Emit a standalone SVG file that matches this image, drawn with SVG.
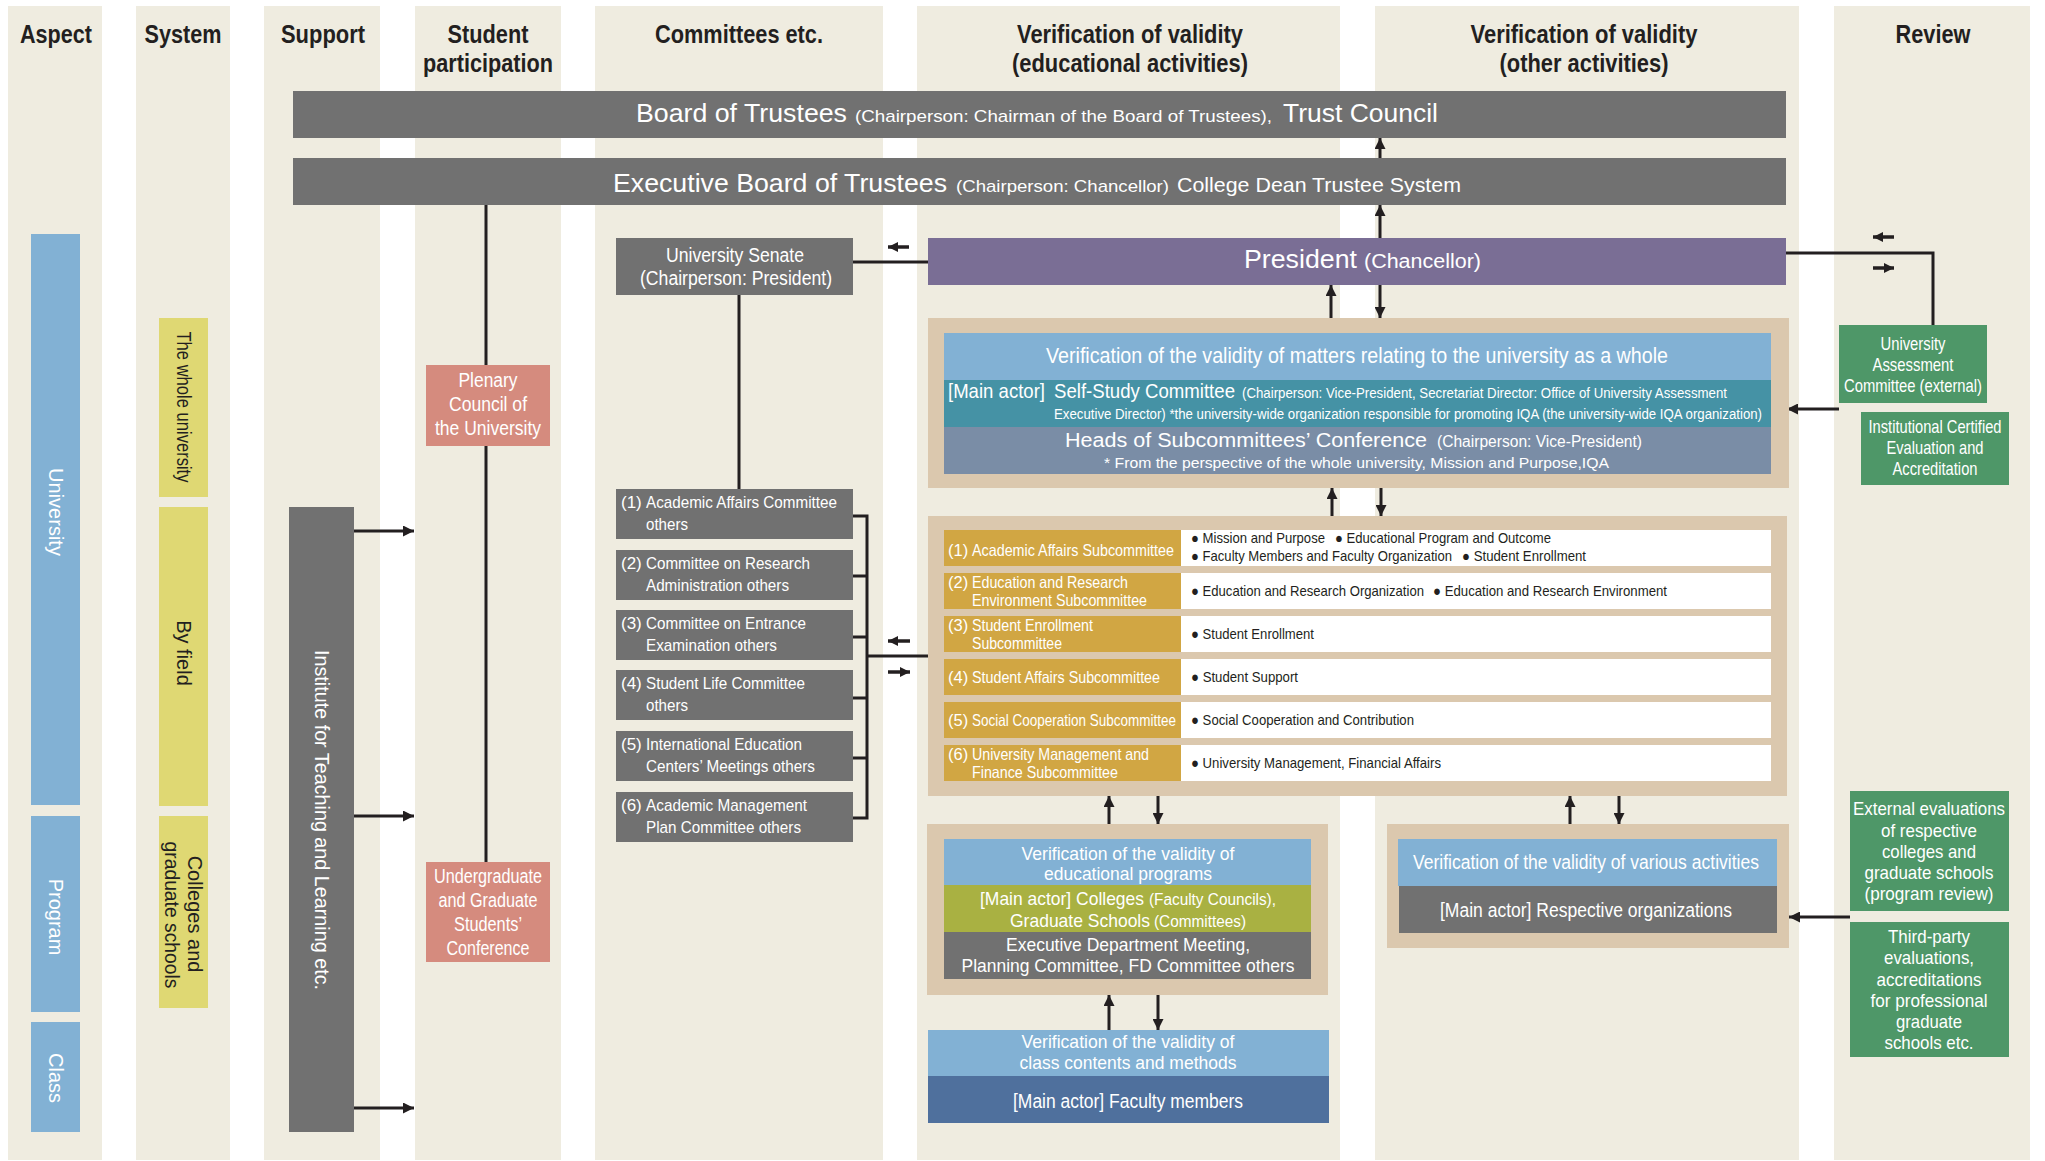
<svg xmlns="http://www.w3.org/2000/svg" width="2045" height="1161" viewBox="0 0 2045 1161">
<style>
text{font-family:"Liberation Sans",Arial,sans-serif;}
.col{fill:#efece0}
.hd{font-weight:bold;font-size:25px;fill:#231f20;text-anchor:middle}
.gr{fill:#717171}
.w{fill:#fff}
.k{fill:#231f20}
.m{text-anchor:middle}
.ln{stroke:#231f20;stroke-width:3;fill:none}
.ar{stroke:#231f20;stroke-width:3;fill:none;marker-end:url(#ah)}
.sa{stroke:#231f20;stroke-width:3.5;fill:none;marker-end:url(#ahs)}
.f14{font-size:14px}.f145{font-size:14.5px}.f15{font-size:15px}.f16{font-size:16px}.f165{font-size:16.5px}.f17{font-size:17px}.f18{font-size:18px}.f19{font-size:19px}.f20{font-size:20px}.f21{font-size:21px}.f22{font-size:22px}.f26{font-size:26px}
</style>
<defs>
<marker id="ah" viewBox="0 0 10 10" refX="10" refY="5" markerWidth="11" markerHeight="11" markerUnits="userSpaceOnUse" orient="auto"><path d="M0,0 L10,5 L0,10 z" fill="#231f20"/></marker>
<marker id="ahs" viewBox="0 0 10 10" refX="10" refY="5" markerWidth="10" markerHeight="11" markerUnits="userSpaceOnUse" orient="auto"><path d="M0,0 L10,5 L0,10 z" fill="#231f20"/></marker>
</defs>
<rect width="2045" height="1161" fill="#fff"/>
<g id="columns">
<rect class="col" x="8" y="6" width="94" height="1154"/>
<rect class="col" x="136" y="6" width="94" height="1154"/>
<rect class="col" x="264" y="6" width="116" height="1154"/>
<rect class="col" x="415" y="6" width="146" height="1154"/>
<rect class="col" x="595" y="6" width="288" height="1154"/>
<rect class="col" x="917" y="6" width="423" height="1154"/>
<rect class="col" x="1375" y="6" width="424" height="1154"/>
<rect class="col" x="1834" y="6" width="196" height="1154"/>
</g>
<g id="headers">
<text class="hd" x="56" y="43" textLength="72" lengthAdjust="spacingAndGlyphs">Aspect</text>
<text class="hd" x="183" y="43" textLength="77" lengthAdjust="spacingAndGlyphs">System</text>
<text class="hd" x="323" y="43" textLength="84" lengthAdjust="spacingAndGlyphs">Support</text>
<text class="hd" x="488" y="43" textLength="81" lengthAdjust="spacingAndGlyphs">Student</text>
<text class="hd" x="488" y="72" textLength="130" lengthAdjust="spacingAndGlyphs">participation</text>
<text class="hd" x="739" y="43" textLength="168" lengthAdjust="spacingAndGlyphs">Committees etc.</text>
<text class="hd" x="1130" y="43" textLength="226" lengthAdjust="spacingAndGlyphs">Verification of validity</text>
<text class="hd" x="1130" y="72" textLength="236" lengthAdjust="spacingAndGlyphs">(educational activities)</text>
<text class="hd" x="1584" y="43" textLength="227" lengthAdjust="spacingAndGlyphs">Verification of validity</text>
<text class="hd" x="1584" y="72" textLength="169" lengthAdjust="spacingAndGlyphs">(other activities)</text>
<text class="hd" x="1933" y="43" textLength="75" lengthAdjust="spacingAndGlyphs">Review</text>
</g>
<g id="connectors">
<line class="ln" x1="486" y1="205" x2="486" y2="862"/>
<line class="ln" x1="739" y1="295" x2="739" y2="489"/>
<line class="ln" x1="853" y1="262" x2="928" y2="262"/>
<line class="sa" x1="909" y1="247" x2="888" y2="247"/>
<line class="ar" x1="1380" y1="158" x2="1380" y2="138"/>
<line class="ar" x1="1380" y1="238" x2="1380" y2="205"/>
<line class="ar" x1="1331" y1="318" x2="1331" y2="285"/>
<line class="ar" x1="1380" y1="285" x2="1380" y2="318"/>
<line class="ar" x1="1332" y1="516" x2="1332" y2="488"/>
<line class="ar" x1="1381" y1="488" x2="1381" y2="516"/>
<line class="ar" x1="1109" y1="824" x2="1109" y2="796"/>
<line class="ar" x1="1158" y1="796" x2="1158" y2="824"/>
<line class="ar" x1="1109" y1="1030" x2="1109" y2="995"/>
<line class="ar" x1="1158" y1="995" x2="1158" y2="1030"/>
<line class="ar" x1="1570" y1="824" x2="1570" y2="796"/>
<line class="ar" x1="1619" y1="796" x2="1619" y2="824"/>
<polyline class="ln" points="1786,253 1933,253 1933,325"/>
<line class="sa" x1="1894" y1="237" x2="1873" y2="237"/>
<line class="sa" x1="1873" y1="268" x2="1894" y2="268"/>
<line class="ar" x1="1839" y1="409" x2="1787" y2="409"/>
<line class="ar" x1="1850" y1="917" x2="1789" y2="917"/>
<polyline class="ln" points="853,516 867,516 867,818 853,818"/>
<line class="ln" x1="853" y1="576" x2="867" y2="576"/>
<line class="ln" x1="853" y1="637" x2="867" y2="637"/>
<line class="ln" x1="853" y1="698" x2="867" y2="698"/>
<line class="ln" x1="853" y1="758" x2="867" y2="758"/>
<line class="ln" x1="867" y1="656" x2="928" y2="656"/>
<line class="sa" x1="910" y1="641" x2="888" y2="641"/>
<line class="sa" x1="888" y1="672" x2="910" y2="672"/>
<line class="ar" x1="354" y1="531" x2="414" y2="531"/>
<line class="ar" x1="354" y1="816" x2="414" y2="816"/>
<line class="ar" x1="354" y1="1108" x2="414" y2="1108"/>
</g>
<g id="aspect">
<rect x="31" y="234" width="49" height="571" fill="#82b1d4"/>
<rect x="31" y="816" width="49" height="196" fill="#82b1d4"/>
<rect x="31" y="1022" width="49" height="110" fill="#82b1d4"/>
<text class="w f20 m" transform="translate(55.5,512) rotate(90)" y="7">University</text>
<text class="w f20 m" transform="translate(55.5,917) rotate(90)" y="7">Program</text>
<text class="w f20 m" transform="translate(55.5,1078) rotate(90)" y="7">Class</text>
</g>
<g id="system">
<rect x="159" y="318" width="49" height="179" fill="#dfd873"/>
<rect x="159" y="507" width="49" height="299" fill="#dfd873"/>
<rect x="159" y="816" width="49" height="192" fill="#dfd873"/>
<text class="k f20 m" transform="translate(183.5,407) rotate(90)" y="7" textLength="151" lengthAdjust="spacingAndGlyphs">The whole university</text>
<text class="k f20 m" transform="translate(183.5,653) rotate(90)" y="7">By field</text>
<text class="k f20 m" transform="translate(195,914) rotate(90)" y="7">Colleges and</text>
<text class="k f20 m" transform="translate(172,915) rotate(90)" y="7" textLength="147" lengthAdjust="spacingAndGlyphs">graduate schools</text>
</g>
<g id="institute">
<rect class="gr" x="289" y="507" width="65" height="625"/>
<text class="w f20 m" transform="translate(321.5,820) rotate(90)" y="7" textLength="340" lengthAdjust="spacingAndGlyphs">Institute for Teaching and Learning etc.</text>
</g>
<g id="plenary">
<rect x="426" y="365" width="124" height="81" fill="#d58b7e"/>
<text class="w f20 m" x="488" y="387" textLength="59" lengthAdjust="spacingAndGlyphs">Plenary</text>
<text class="w f20 m" x="488" y="411" textLength="78" lengthAdjust="spacingAndGlyphs">Council of</text>
<text class="w f20 m" x="488" y="435" textLength="106" lengthAdjust="spacingAndGlyphs">the University</text>
</g>
<g id="students-conference">
<rect x="426" y="862" width="124" height="100" fill="#d58b7e"/>
<text class="w f20 m" x="488" y="883" textLength="108" lengthAdjust="spacingAndGlyphs">Undergraduate</text>
<text class="w f20 m" x="488" y="907" textLength="99" lengthAdjust="spacingAndGlyphs">and Graduate</text>
<text class="w f20 m" x="488" y="931" textLength="68" lengthAdjust="spacingAndGlyphs">Students’</text>
<text class="w f20 m" x="488" y="955" textLength="83" lengthAdjust="spacingAndGlyphs">Conference</text>
</g>
<g id="board">
<rect class="gr" x="293" y="91" width="1493" height="47"/>
<text class="w f26" x="636" y="122" textLength="211" lengthAdjust="spacingAndGlyphs">Board of Trustees</text>
<text class="w f17" x="855" y="122" textLength="417" lengthAdjust="spacingAndGlyphs">(Chairperson: Chairman of the Board of Trustees),</text>
<text class="w f26" x="1283" y="122" textLength="155" lengthAdjust="spacingAndGlyphs">Trust Council</text>
</g>
<g id="executive-board">
<rect class="gr" x="293" y="158" width="1493" height="47"/>
<text class="w f26" x="613" y="192" textLength="334" lengthAdjust="spacingAndGlyphs">Executive Board of Trustees</text>
<text class="w f17" x="956" y="192" textLength="213" lengthAdjust="spacingAndGlyphs">(Chairperson: Chancellor)</text>
<text class="w f21" x="1177" y="192" textLength="284" lengthAdjust="spacingAndGlyphs">College Dean Trustee System</text>
</g>
<g id="president">
<rect x="928" y="238" width="858" height="47" fill="#7a6e95"/>
<text class="w f26" x="1244" y="268" textLength="113" lengthAdjust="spacingAndGlyphs">President</text>
<text class="w f20" x="1364" y="268" textLength="117" lengthAdjust="spacingAndGlyphs">(Chancellor)</text>
</g>
<g id="senate">
<rect class="gr" x="616" y="238" width="237" height="57"/>
<text class="w f20 m" x="735" y="262" textLength="138" lengthAdjust="spacingAndGlyphs">University Senate</text>
<text class="w f20 m" x="736" y="285" textLength="192" lengthAdjust="spacingAndGlyphs">(Chairperson: President)</text>
</g>
<g id="committees">
<rect class="gr" x="616" y="489" width="237" height="50"/>
<text class="w f17" x="621" y="508">(1)</text>
<text class="w f17" x="646" y="508" textLength="191" lengthAdjust="spacingAndGlyphs">Academic Affairs Committee</text>
<text class="w f17" x="646" y="530" textLength="42" lengthAdjust="spacingAndGlyphs">others</text>
<rect class="gr" x="616" y="550" width="237" height="50"/>
<text class="w f17" x="621" y="569">(2)</text>
<text class="w f17" x="646" y="569" textLength="164" lengthAdjust="spacingAndGlyphs">Committee on Research</text>
<text class="w f17" x="646" y="591" textLength="143" lengthAdjust="spacingAndGlyphs">Administration others</text>
<rect class="gr" x="616" y="610" width="237" height="50"/>
<text class="w f17" x="621" y="629">(3)</text>
<text class="w f17" x="646" y="629" textLength="160" lengthAdjust="spacingAndGlyphs">Committee on Entrance</text>
<text class="w f17" x="646" y="651" textLength="131" lengthAdjust="spacingAndGlyphs">Examination others</text>
<rect class="gr" x="616" y="670" width="237" height="50"/>
<text class="w f17" x="621" y="689">(4)</text>
<text class="w f17" x="646" y="689" textLength="159" lengthAdjust="spacingAndGlyphs">Student Life Committee</text>
<text class="w f17" x="646" y="711" textLength="42" lengthAdjust="spacingAndGlyphs">others</text>
<rect class="gr" x="616" y="731" width="237" height="50"/>
<text class="w f17" x="621" y="750">(5)</text>
<text class="w f17" x="646" y="750" textLength="156" lengthAdjust="spacingAndGlyphs">International Education</text>
<text class="w f17" x="646" y="772" textLength="169" lengthAdjust="spacingAndGlyphs">Centers’ Meetings others</text>
<rect class="gr" x="616" y="792" width="237" height="50"/>
<text class="w f17" x="621" y="811">(6)</text>
<text class="w f17" x="646" y="811" textLength="161" lengthAdjust="spacingAndGlyphs">Academic Management</text>
<text class="w f17" x="646" y="833" textLength="155" lengthAdjust="spacingAndGlyphs">Plan Committee others</text>
</g>
<g id="university-whole">
<rect x="928" y="318" width="861" height="170" fill="#dbc8ae"/>
<rect x="944" y="333" width="827" height="47" fill="#82b1d4"/>
<rect x="944" y="380" width="827" height="47" fill="#4592a5"/>
<rect x="944" y="427" width="827" height="47" fill="#7a8da6"/>
<text class="w f22 m" x="1357" y="363" textLength="622" lengthAdjust="spacingAndGlyphs">Verification of the validity of matters relating to the university as a whole</text>
<text class="w f21" x="948" y="398" textLength="97" lengthAdjust="spacingAndGlyphs">[Main actor]</text>
<text class="w f21" x="1054" y="398" textLength="181" lengthAdjust="spacingAndGlyphs">Self-Study Committee</text>
<text class="w f145" x="1242" y="398" textLength="485" lengthAdjust="spacingAndGlyphs">(Chairperson: Vice-President, Secretariat Director: Office of University Assessment</text>
<text class="w f14" x="1054" y="419" textLength="708" lengthAdjust="spacingAndGlyphs">Executive Director) *the university-wide organization responsible for promoting IQA (the university-wide IQA organization)</text>
<text class="w f20" x="1065" y="447" textLength="362" lengthAdjust="spacingAndGlyphs">Heads of Subcommittees’ Conference</text>
<text class="w f16" x="1437" y="447" textLength="205" lengthAdjust="spacingAndGlyphs">(Chairperson: Vice-President)</text>
<text class="w f15" x="1104" y="468" textLength="505" lengthAdjust="spacingAndGlyphs">* From the perspective of the whole university, Mission and Purpose,IQA</text>
</g>
<g id="subcommittees">
<rect x="928" y="516" width="859" height="280" fill="#dbc8ae"/>
<rect x="944" y="530" width="237" height="36" fill="#d1a643"/><rect x="1181" y="530" width="590" height="36" fill="#fff"/>
<rect x="944" y="573" width="237" height="36" fill="#d1a643"/><rect x="1181" y="573" width="590" height="36" fill="#fff"/>
<rect x="944" y="616" width="237" height="36" fill="#d1a643"/><rect x="1181" y="616" width="590" height="36" fill="#fff"/>
<rect x="944" y="659" width="237" height="36" fill="#d1a643"/><rect x="1181" y="659" width="590" height="36" fill="#fff"/>
<rect x="944" y="702" width="237" height="36" fill="#d1a643"/><rect x="1181" y="702" width="590" height="36" fill="#fff"/>
<rect x="944" y="745" width="237" height="36" fill="#d1a643"/><rect x="1181" y="745" width="590" height="36" fill="#fff"/>
<text class="w f165" x="948" y="556">(1)</text>
<text class="w f165" x="972" y="556" textLength="202" lengthAdjust="spacingAndGlyphs">Academic Affairs Subcommittee</text>
<text class="w f165" x="948" y="588">(2)</text>
<text class="w f165" x="972" y="588" textLength="156" lengthAdjust="spacingAndGlyphs">Education and Research</text>
<text class="w f165" x="972" y="606" textLength="175" lengthAdjust="spacingAndGlyphs">Environment Subcommittee</text>
<text class="w f165" x="948" y="631">(3)</text>
<text class="w f165" x="972" y="631" textLength="121" lengthAdjust="spacingAndGlyphs">Student Enrollment</text>
<text class="w f165" x="972" y="649" textLength="90" lengthAdjust="spacingAndGlyphs">Subcommittee</text>
<text class="w f165" x="948" y="683">(4)</text>
<text class="w f165" x="972" y="683" textLength="188" lengthAdjust="spacingAndGlyphs">Student Affairs Subcommittee</text>
<text class="w f165" x="948" y="726">(5)</text>
<text class="w f165" x="972" y="726" textLength="204" lengthAdjust="spacingAndGlyphs">Social Cooperation Subcommittee</text>
<text class="w f165" x="948" y="760">(6)</text>
<text class="w f165" x="972" y="760" textLength="177" lengthAdjust="spacingAndGlyphs">University Management and</text>
<text class="w f165" x="972" y="778" textLength="146" lengthAdjust="spacingAndGlyphs">Finance Subcommittee</text>
<text class="k f145" x="1191" y="543" textLength="134" lengthAdjust="spacingAndGlyphs">● Mission and Purpose</text>
<text class="k f145" x="1335" y="543" textLength="216" lengthAdjust="spacingAndGlyphs">● Educational Program and Outcome</text>
<text class="k f145" x="1191" y="561" textLength="261" lengthAdjust="spacingAndGlyphs">● Faculty Members and Faculty Organization</text>
<text class="k f145" x="1462" y="561" textLength="124" lengthAdjust="spacingAndGlyphs">● Student Enrollment</text>
<text class="k f15" x="1191" y="596" textLength="233" lengthAdjust="spacingAndGlyphs">● Education and Research Organization</text>
<text class="k f15" x="1433" y="596" textLength="234" lengthAdjust="spacingAndGlyphs">● Education and Research Environment</text>
<text class="k f15" x="1191" y="639" textLength="123" lengthAdjust="spacingAndGlyphs">● Student Enrollment</text>
<text class="k f15" x="1191" y="682" textLength="107" lengthAdjust="spacingAndGlyphs">● Student Support</text>
<text class="k f15" x="1191" y="725" textLength="223" lengthAdjust="spacingAndGlyphs">● Social Cooperation and Contribution</text>
<text class="k f15" x="1191" y="768" textLength="250" lengthAdjust="spacingAndGlyphs">● University Management, Financial Affairs</text>
</g>
<g id="educational-programs">
<rect x="927" y="824" width="401" height="171" fill="#dbc8ae"/>
<rect x="944" y="839" width="367" height="46" fill="#82b1d4"/>
<rect x="944" y="885" width="367" height="47" fill="#a9b142"/>
<rect x="944" y="932" width="367" height="47" fill="#717171"/>
<text class="w f19 m" x="1128" y="860" textLength="213" lengthAdjust="spacingAndGlyphs">Verification of the validity of</text>
<text class="w f19 m" x="1128" y="880" textLength="168" lengthAdjust="spacingAndGlyphs">educational programs</text>
<text class="w f19" x="980" y="905" textLength="164" lengthAdjust="spacingAndGlyphs">[Main actor] Colleges</text>
<text class="w f16" x="1149" y="905" textLength="127" lengthAdjust="spacingAndGlyphs">(Faculty Councils),</text>
<text class="w f19" x="1010" y="927" textLength="140" lengthAdjust="spacingAndGlyphs">Graduate Schools</text>
<text class="w f16" x="1154" y="927" textLength="92" lengthAdjust="spacingAndGlyphs">(Committees)</text>
<text class="w f19 m" x="1128" y="951" textLength="244" lengthAdjust="spacingAndGlyphs">Executive Department Meeting,</text>
<text class="w f19 m" x="1128" y="972" textLength="333" lengthAdjust="spacingAndGlyphs">Planning Committee, FD Committee others</text>
</g>
<g id="class-contents">
<rect x="928" y="1030" width="401" height="46" fill="#82b1d4"/>
<rect x="928" y="1076" width="401" height="47" fill="#4f709d"/>
<text class="w f19 m" x="1128" y="1048" textLength="213" lengthAdjust="spacingAndGlyphs">Verification of the validity of</text>
<text class="w f19 m" x="1128" y="1069" textLength="217" lengthAdjust="spacingAndGlyphs">class contents and methods</text>
<text class="w f20 m" x="1128" y="1108" textLength="230" lengthAdjust="spacingAndGlyphs">[Main actor] Faculty members</text>
</g>
<g id="various-activities">
<rect x="1387" y="824" width="402" height="124" fill="#dbc8ae"/>
<rect x="1398" y="839" width="379" height="47" fill="#82b1d4"/>
<rect x="1399" y="886" width="378" height="47" fill="#717171"/>
<text class="w f20 m" x="1586" y="869" textLength="346" lengthAdjust="spacingAndGlyphs">Verification of the validity of various activities</text>
<text class="w f20 m" x="1586" y="917" textLength="292" lengthAdjust="spacingAndGlyphs">[Main actor] Respective organizations</text>
</g>
<g id="assessment-committee">
<rect x="1839" y="325" width="148" height="78" fill="#4e9768"/>
<text class="w f19 m" x="1913" y="350" textLength="65" lengthAdjust="spacingAndGlyphs">University</text>
<text class="w f19 m" x="1913" y="371" textLength="81" lengthAdjust="spacingAndGlyphs">Assessment</text>
<text class="w f19 m" x="1913" y="392" textLength="138" lengthAdjust="spacingAndGlyphs">Committee (external)</text>
</g>
<g id="certified-evaluation">
<rect x="1861" y="412" width="148" height="73" fill="#4e9768"/>
<text class="w f19 m" x="1935" y="433" textLength="133" lengthAdjust="spacingAndGlyphs">Institutional Certified</text>
<text class="w f19 m" x="1935" y="454" textLength="97" lengthAdjust="spacingAndGlyphs">Evaluation and</text>
<text class="w f19 m" x="1935" y="475" textLength="85" lengthAdjust="spacingAndGlyphs">Accreditation</text>
</g>
<g id="external-evaluations">
<rect x="1850" y="791" width="159" height="120" fill="#4e9768"/>
<text class="w f19 m" x="1929" y="815" textLength="152" lengthAdjust="spacingAndGlyphs">External evaluations</text>
<text class="w f19 m" x="1929" y="837" textLength="96" lengthAdjust="spacingAndGlyphs">of respective</text>
<text class="w f19 m" x="1929" y="858" textLength="94" lengthAdjust="spacingAndGlyphs">colleges and</text>
<text class="w f19 m" x="1929" y="879" textLength="129" lengthAdjust="spacingAndGlyphs">graduate schools</text>
<text class="w f19 m" x="1929" y="900" textLength="129" lengthAdjust="spacingAndGlyphs">(program review)</text>
</g>
<g id="third-party">
<rect x="1850" y="922" width="159" height="135" fill="#4e9768"/>
<text class="w f19 m" x="1929" y="943" textLength="82" lengthAdjust="spacingAndGlyphs">Third-party</text>
<text class="w f19 m" x="1929" y="964" textLength="90" lengthAdjust="spacingAndGlyphs">evaluations,</text>
<text class="w f19 m" x="1929" y="986" textLength="105" lengthAdjust="spacingAndGlyphs">accreditations</text>
<text class="w f19 m" x="1929" y="1007" textLength="117" lengthAdjust="spacingAndGlyphs">for professional</text>
<text class="w f19 m" x="1929" y="1028" textLength="66" lengthAdjust="spacingAndGlyphs">graduate</text>
<text class="w f19 m" x="1929" y="1049" textLength="89" lengthAdjust="spacingAndGlyphs">schools etc.</text>
</g>
</svg>
